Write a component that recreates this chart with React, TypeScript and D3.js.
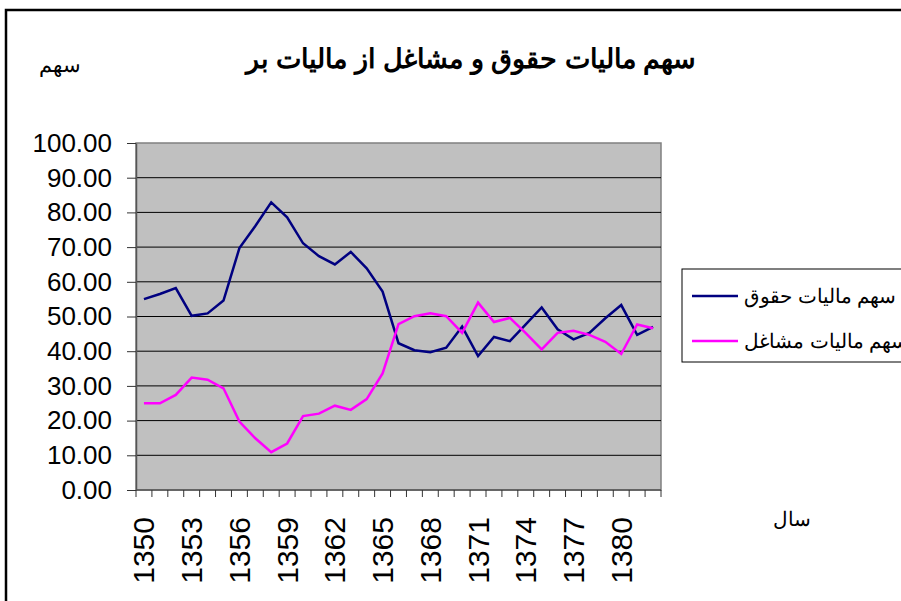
import React, { useEffect, useRef } from "react";
import * as d3 from "d3";

// years (Persian calendar)
const years = [
  "1350", "1351", "1352", "1353", "1354", "1355", "1356", "1357", "1358", "1359",
  "1360", "1361", "1362", "1363", "1364", "1365", "1366", "1367", "1368", "1369",
  "1370", "1371", "1372", "1373", "1374", "1375", "1376", "1377", "1378", "1379",
  "1380", "1381", "1382",
];

// سهم ماليات حقوق
const wageTaxShare = [
  55.0, 56.5, 58.2, 50.2, 50.9, 54.6, 69.7, 76.1, 82.9, 78.6, 71.1, 67.4, 65.0,
  68.6, 63.9, 57.2, 42.3, 40.3, 39.7, 41.0, 47.1, 38.6, 44.1, 42.9, 47.7, 52.6,
  46.3, 43.4, 45.3, 49.5, 53.3, 44.7, 47.0,
];

// سهم ماليات مشاغل
const businessTaxShare = [
  25.0, 25.0, 27.4, 32.4, 31.8, 29.3, 19.7, 14.9, 10.9, 13.4, 21.3, 22.0, 24.3,
  23.1, 26.2, 33.6, 47.8, 50.1, 50.9, 50.1, 45.3, 54.0, 48.4, 49.6, 45.2, 40.5,
  45.3, 45.9, 44.7, 42.7, 39.2, 47.7, 46.6,
];

const yTicks = [0, 10, 20, 30, 40, 50, 60, 70, 80, 90, 100];
const xLabelYears = ["1350", "1353", "1356", "1359", "1362", "1365", "1368", "1371", "1374", "1377", "1380"];

const seriesNames = ["سهم ماليات حقوق", "سهم ماليات مشاغل"];
const seriesColors = ["#000080", "#FF00FF"];

const title = "سهم ماليات حقوق و مشاغل از ماليات بر";
const yTitle = "سهم";
const xTitle = "سال";

const W = 901;
const H = 601;
const ARIAL = "Arial, 'Liberation Sans', sans-serif";

const App = () => {
  const ref = useRef<SVGSVGElement | null>(null);

  useEffect(() => {
    const svg = d3.select(ref.current);
    svg.selectAll("*").remove();

    const plot = { left: 136, right: 661, top: 143, bottom: 490 };

    const x = d3.scaleBand<string>().domain(years).range([plot.left, plot.right]);
    const y = d3.scaleLinear().domain([0, 100]).range([plot.bottom, plot.top]);
    const cx = (d: string) => (x(d) as number) + x.bandwidth() / 2;

    svg.append("rect").attr("width", W).attr("height", H).attr("fill", "#fff");

    // chart border
    svg.append("rect")
      .attr("x", 6).attr("y", 10)
      .attr("width", W + 20).attr("height", H + 20)
      .attr("fill", "none").attr("stroke", "#000").attr("stroke-width", 2.5);

    // plot area
    svg.append("rect")
      .attr("x", plot.left).attr("y", plot.top)
      .attr("width", plot.right - plot.left).attr("height", plot.bottom - plot.top)
      .attr("fill", "#C0C0C0").attr("stroke", "#808080").attr("stroke-width", 1.5);

    // gridlines
    svg.append("g")
      .selectAll("line")
      .data(yTicks.filter((t) => t > 0 && t < 100))
      .join("line")
      .attr("x1", plot.left).attr("x2", plot.right)
      .attr("y1", (d) => y(d)).attr("y2", (d) => y(d))
      .attr("stroke", "#000").attr("stroke-width", 1);

    // y axis
    const yAxis = svg.append("g")
      .attr("transform", `translate(${plot.left},0)`)
      .call(d3.axisLeft(y).tickValues(yTicks).tickFormat(d3.format(".2f")).tickSizeInner(9).tickSizeOuter(0).tickPadding(15));
    yAxis.select(".domain").attr("stroke", "#555").attr("stroke-width", 1.5);
    yAxis.selectAll(".tick line").attr("stroke", "#333");
    yAxis.selectAll("text").attr("font-family", ARIAL).attr("font-size", 26).attr("fill", "#000");

    // x axis line and ticks between categories
    svg.append("line")
      .attr("x1", plot.left).attr("x2", plot.right)
      .attr("y1", plot.bottom).attr("y2", plot.bottom)
      .attr("stroke", "#555").attr("stroke-width", 1.5);
    const bounds = years.map((d) => x(d) as number).concat([plot.right]);
    svg.append("g")
      .selectAll("line")
      .data(bounds)
      .join("line")
      .attr("x1", (d) => d).attr("x2", (d) => d)
      .attr("y1", plot.bottom).attr("y2", plot.bottom + 7)
      .attr("stroke", "#333").attr("stroke-width", 1);

    svg.append("g")
      .selectAll("text")
      .data(xLabelYears)
      .join("text")
      .attr("transform", (d) => `translate(${cx(d)},517) rotate(-90)`)
      .attr("text-anchor", "end")
      .attr("dominant-baseline", "central")
      .attr("font-family", ARIAL)
      .attr("font-size", 30)
      .text((d) => d);

    // lines
    const line = d3.line<number>()
      .x((_, i) => cx(years[i]))
      .y((d) => y(d));
    [wageTaxShare, businessTaxShare].forEach((s, i) => {
      svg.append("path")
        .datum(s)
        .attr("fill", "none")
        .attr("stroke", seriesColors[i])
        .attr("stroke-width", 2.5)
        .attr("stroke-linejoin", "miter")
        .attr("d", line);
    });

    // titles
    svg.append("text")
      .attr("x", 471).attr("y", 68)
      .attr("text-anchor", "middle")
      .attr("font-family", ARIAL)
      .attr("font-weight", "bold")
      .attr("font-size", 27)
      .text(title);
    svg.append("text")
      .attr("x", 60).attr("y", 72)
      .attr("text-anchor", "middle")
      .attr("font-family", ARIAL)
      .attr("font-size", 21)
      .text(yTitle);
    svg.append("text")
      .attr("x", 792).attr("y", 526)
      .attr("text-anchor", "middle")
      .attr("font-family", ARIAL)
      .attr("font-size", 20)
      .text(xTitle);

    // legend
    svg.append("rect")
      .attr("x", 682).attr("y", 269)
      .attr("width", 240).attr("height", 93)
      .attr("fill", "#fff").attr("stroke", "#000").attr("stroke-width", 1);
    const lg = svg.append("g")
      .selectAll("g")
      .data(seriesNames)
      .join("g")
      .attr("transform", (_, i) => `translate(0,${296 + i * 45})`);
    lg.append("line")
      .attr("x1", 692).attr("x2", 738)
      .attr("stroke", (_, i) => seriesColors[i])
      .attr("stroke-width", 2.5);
    lg.append("text")
      .attr("x", 744).attr("y", 0)
      .attr("dominant-baseline", "central")
      .attr("font-family", ARIAL)
      .attr("font-size", 20)
      .text((d) => d);
  }, []);

  return (
    <div style={{ position: "absolute", left: 0, top: 0 }}>
      <svg ref={ref} width={W} height={H} style={{ display: "block" }}></svg>
    </div>
  );
};

export default App;
